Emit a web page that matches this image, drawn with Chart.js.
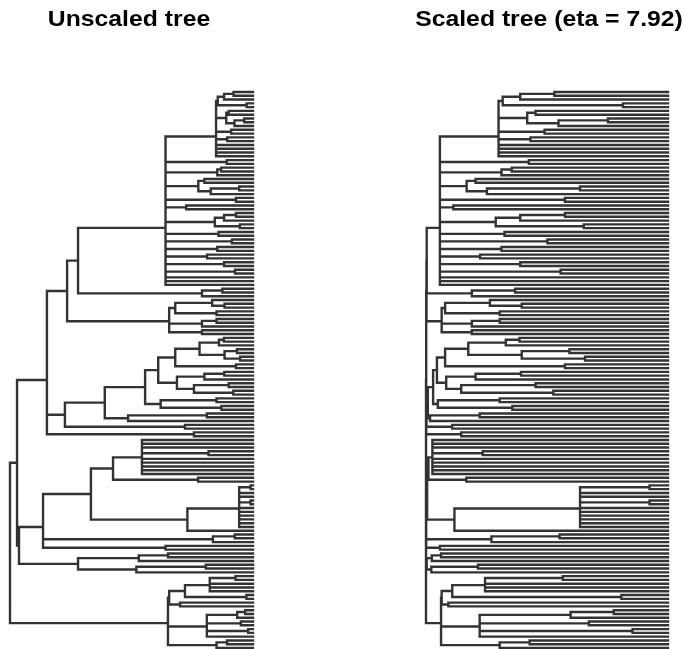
<!DOCTYPE html>
<html>
<head>
<meta charset="utf-8">
<script src="https://cdn.jsdelivr.net/npm/chart.js@4/dist/chart.umd.min.js"></script>
<style>
  html, body { margin: 0; padding: 0; background: #fff; }
  #wrap { position: relative; width: 684px; height: 649px; overflow: hidden; background: #fff; }
  .panel { position: absolute; top: 0; width: 342px; height: 649px; }
  .title { position: absolute; top: 6px; line-height: 26px; font: bold 22.5px "Liberation Sans", Arial, sans-serif;
           color: #000; white-space: nowrap; transform: translateX(-50%) scaleX(1.1); }
</style>
</head>
<body>
<div id="wrap">
  <div class="panel" style="left:0"><canvas id="treeA" width="342" height="649"></canvas></div>
  <div class="panel" style="left:342px"><canvas id="treeB" width="342" height="649"></canvas></div>
  <div class="title" id="titleA" style="left:129px"></div>
  <div class="title" id="titleB" style="left:549px"></div>
</div>
<script>
// Tree data: every internal node is [depthFromRoot, ...children]; T marks a tip.
// Depths are fractions of the root-to-tip height of the unscaled (ultrametric) tree.
const T = 't';
const eta = 7.92;
const titles = ['Unscaled tree', 'Scaled tree (eta = ' + eta + ')'];

const cladeA = [0.848,
  [0.855, [0.881, [0.92, T, T], T], [0.974, T, T]],
  [0.89, [0.90, T, T], [0.924, [0.964, T, T], T]],
  [0.91, T, T],
  [0.894, T, T],
  T, T, T, T];

const cladeB = [0.64, cladeA,
  [0.892, T, T],
  [0.853, [0.869, T, T], T],
  [0.775, [0.80, T, T], [0.826, [0.943, T, T], T]],
  [0.93, T, T],
  [0.725, T, T],
  [0.843, [0.881, [0.93, T, T], T], [0.946, T, T]],
  [0.858, T, T],
  [0.913, T, T],
  [0.853, T, T],
  [0.811, T, T],
  [0.881, T, T],
  [0.926, T, T],
  T, T, T];

const cladeC = [0.79, [0.874, T, T], T];

const cladeD = [0.655,
  [0.68, [0.832, T, [0.883, T, T]], [0.85, T, T]],
  [0.79, [0.85, T, T], T],
  [0.79, T, T]];

const cladeM = [0.39,
  [0.556,
    [0.61,
      [0.68, [0.78, [0.86, [0.88, T, T], T], [0.883, [0.934, T, T], [0.947, T, T]]], [0.93, T, T]],
      [0.687, [0.80, [0.882, T, T], T], [0.757, [0.90, T, T], [0.919, T, T]]]],
    [0.62, [0.85, T, T], [0.87, T, T]]],
  [0.486, [0.81, T, T], T]];

const cladeE = [0.543, T, T, T, [0.817, T, T], T, T, T, T, T];

const cladeH = [0.73, [0.943, [0.99, T, T], T, T, [0.99, T, T], T, T, T, T, T, T], T];

const cladeL = [0.65,
  [0.655, [0.72, [0.822, [0.928, T, T], T, T, T], [0.973, T, T]], [0.70, T, T]],
  [0.81, [0.935, [0.968, T, T], T], [0.95, T, T], [0.98, T, T], T],
  [0.85, [0.893, T, T], T]];

const tree = [0,
  [0.029,
    [0.152,
      [0.235, [0.28, cladeB, cladeC], cladeD],
      [0.226, cladeM, [0.72, T, T]],
      [0.757, T, T]],
    [0.037,
      [0.136,
        [0.333, [0.424, cladeE, [0.774, T, T]], cladeH],
        [0.835, [0.925, T, T], T],
        [0.64, T, T]],
      [0.28, [0.53, [0.65, T, T], T], [0.52, [0.806, T, T], T]]]],
  cladeL];

// Exponential rescaling of node depths controlled by eta (tips stay at depth 1).
function scaleDepth(d) {
  return (Math.exp(eta * d) - 1) / (Math.exp(eta) - 1);
}

// Walks the tree, giving tips consecutive rows from the top, and returns the
// branch segments (vertical spans + horizontal edges) as gap-separated points.
function treeSegments(root, depthFn) {
  const pts = [];
  let row = 0;
  function seg(x1, y1, x2, y2) {
    pts.push({x: x1, y: y1}, {x: x2, y: y2}, {x: null, y: null});
  }
  function walk(node) {
    if (!Array.isArray(node)) return {x: 1, y: row++};
    const x = depthFn(node[0]);
    const kids = node.slice(1).map(walk);
    const ys = kids.map(k => k.y);
    seg(x, Math.min(...ys), x, Math.max(...ys));
    kids.forEach(k => seg(x, k.y, k.x, k.y));
    return {x, y: ys.reduce((a, b) => a + b, 0) / ys.length};
  }
  walk(root);
  return {pts, nTips: row};
}

// Places the tree so that root/tips and first/last tip land on the given pixels.
function drawTree(canvasId, depthFn, xRoot, xTip) {
  const {pts, nTips} = treeSegments(tree, depthFn);
  const W = 342, H = 649, yTop = 92, yBot = 648;
  const sx = xTip - xRoot, sy = (yBot - yTop) / (nTips - 1);
  const xmin = -xRoot / sx, ymin = -yTop / sy;
  new Chart(document.getElementById(canvasId), {
    type: 'scatter',
    data: {
      datasets: [{
        data: pts,
        showLine: true,
        spanGaps: false,
        borderColor: '#333333',
        borderWidth: 2.4,
        borderCapStyle: 'square',
        pointRadius: 0,
        pointHoverRadius: 0,
        clip: false
      }]
    },
    options: {
      responsive: false,
      animation: false,
      events: [],
      layout: {padding: 0},
      plugins: {legend: {display: false}, tooltip: {enabled: false}, title: {display: false}},
      scales: {
        x: {type: 'linear', display: false, min: xmin, max: xmin + W / sx},
        y: {type: 'linear', display: false, reverse: true, min: ymin, max: ymin + H / sy}
      }
    }
  });
}

document.getElementById('titleA').textContent = titles[0];
document.getElementById('titleB').textContent = titles[1];
drawTree('treeA', d => d, 10, 253);
drawTree('treeB', scaleDepth, 84, 326);
</script>
</body>
</html>
